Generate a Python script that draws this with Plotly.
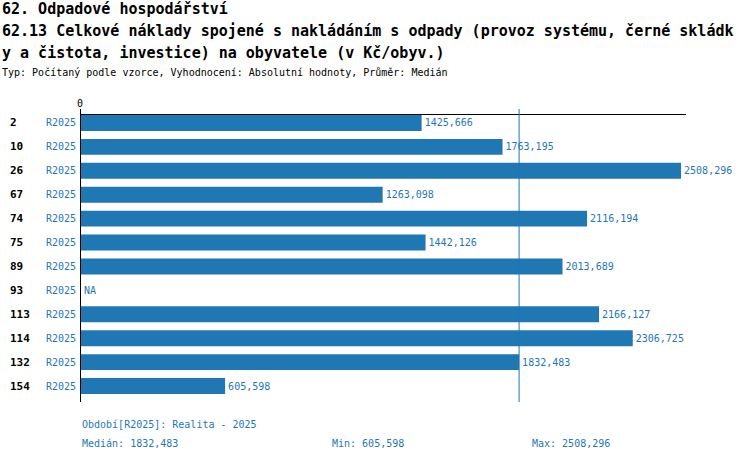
import plotly.graph_objects as go

rows = ["2", "10", "26", "67", "74", "75", "89", "93", "113", "114", "132", "154"]
period = ["R2025"] * 12
values = [1425.666, 1763.195, 2508.296, 1263.098, 2116.194, 1442.126, 2013.689, None,
          2166.127, 2306.725, 1832.483, 605.598]
median_val = 1832.483
min_val = 605.598
max_val = 2508.296

title1 = "62. Odpadové hospodářství"
title2 = "62.13 Celkové náklady spojené s nakládáním s odpady (provoz systému, černé skládk"
title3 = "y a čistota, investice) na obyvatele (v Kč/obyv.)"
subtitle = "Typ: Počítaný podle vzorce, Vyhodnocení: Absolutní hodnoty, Průměr: Medián"
footer1 = "Období[R2025]: Realita - 2025"

BLUE = "#1f77b4"
FONT = "DejaVu Sans Mono"
W, H = 750, 462
L, R, T, B = 80, 64, 114, 60
PW, PH = W - L - R, H - T - B


def px(x):
    return (x - L) / PW


def py(y):
    return (H - B - y) / PH


def fmt(v):
    return f"{v:.3f}".replace(".", ",")


ypos = list(range(len(rows)))
texts = [fmt(v) if v is not None else "" for v in values]

fig = go.Figure(go.Bar(
    x=values, y=ypos, orientation="h", width=0.667,
    marker=dict(color=BLUE, line=dict(width=0)),
    text=texts, textposition="outside", cliponaxis=False,
    textfont=dict(family=FONT, size=10, color=BLUE),
    hoverinfo="skip",
))

ann = []
for i, (r, p, v) in enumerate(zip(rows, period, values)):
    ann.append(dict(x=px(8), y=i, xref="paper", yref="y", text=f"<b>{r}</b>", showarrow=False,
                    xanchor="left", yanchor="middle", font=dict(family=FONT, size=11, color="black")))
    ann.append(dict(x=px(78), y=i, xref="paper", yref="y", text=p, showarrow=False,
                    xanchor="right", yanchor="middle", font=dict(family=FONT, size=10, color=BLUE)))
    if v is None:
        ann.append(dict(x=0, y=i, xref="x", yref="y", text="NA", showarrow=False, xshift=2,
                        xanchor="left", yanchor="middle", font=dict(family=FONT, size=10, color=BLUE)))

for txt, y, size, bold in [(title1, 9, 15, True), (title2, 31, 15, True), (title3, 53, 15, True),
                           (subtitle, 73, 10, False)]:
    ann.append(dict(x=px(0), y=py(y), xref="paper", yref="paper",
                    text=f"<b>{txt}</b>" if bold else txt, showarrow=False,
                    xanchor="left", yanchor="middle", font=dict(family=FONT, size=size, color="black")))

ann.append(dict(x=0, y=py(103), xref="x", yref="paper", text="0", showarrow=False,
                xanchor="center", yanchor="middle", font=dict(family=FONT, size=10, color="black")))

for txt, x, y in [(footer1, 80, 424), ("Medián: " + fmt(median_val), 80, 443),
                  ("Min: " + fmt(min_val), 330, 443), ("Max: " + fmt(max_val), 530, 443)]:
    ann.append(dict(x=px(x), y=py(y), xref="paper", yref="paper", text=txt, showarrow=False,
                    xanchor="left", yanchor="middle", font=dict(family=FONT, size=10, color=BLUE)))

shapes = [
    dict(type="line", xref="paper", yref="paper", x0=0, x1=1, y0=py(114.5), y1=py(114.5),
         line=dict(color="black", width=1)),
    dict(type="line", xref="x", yref="paper", x0=0, x1=0, y0=0, y1=py(109),
         line=dict(color="black", width=2)),
    dict(type="line", xref="x", yref="paper", x0=median_val, x1=median_val, y0=0, y1=py(109),
         line=dict(color=BLUE, width=1)),
]

fig.update_layout(
    width=W, height=H, margin=dict(l=L, r=R, t=T, b=B),
    paper_bgcolor="white", plot_bgcolor="white",
    showlegend=False, annotations=ann, shapes=shapes,
    xaxis=dict(range=[0, 2529], visible=False, fixedrange=True),
    yaxis=dict(range=[11.667, -0.375], visible=False, fixedrange=True),
    font=dict(family=FONT),
)

fig.write_html("out.html", config={"displayModeBar": False},
               post_script="document.body.style.margin='0';document.body.style.overflow='hidden';")
